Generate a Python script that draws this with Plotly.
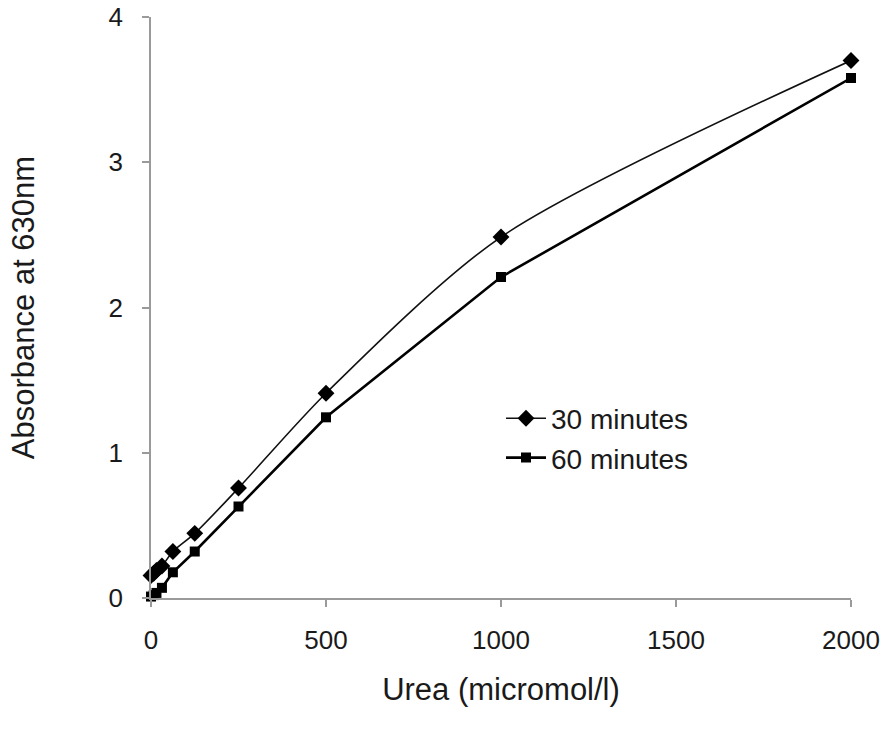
import plotly.graph_objects as go

urea = [0, 7.8, 15.6, 31.25, 62.5, 125, 250, 500, 1000, 2000]
abs_30 = [0.155, 0.17, 0.19, 0.22, 0.32, 0.445, 0.757, 1.41, 2.485, 3.70]
abs_60 = [0.01, 0.02, 0.035, 0.07, 0.177, 0.32, 0.63, 1.244, 2.21, 3.58]
x_ticks = [0, 500, 1000, 1500, 2000]
y_ticks = [0, 1, 2, 3, 4]

FONT = "Arial, Liberation Sans, Helvetica, sans-serif"

fig = go.Figure()
fig.add_trace(go.Scatter(
    x=urea, y=abs_30, name="30 minutes", mode="lines+markers",
    line=dict(color="#111111", width=1.6, shape="spline", smoothing=0.8),
    marker=dict(symbol="diamond", size=13, color="#000000"),
    cliponaxis=False,
))
fig.add_trace(go.Scatter(
    x=urea, y=abs_60, name="60 minutes", mode="lines+markers",
    line=dict(color="#000000", width=2.6),
    marker=dict(symbol="square", size=10, color="#000000"),
    cliponaxis=False,
))

fig.update_layout(
    width=888, height=744,
    margin=dict(l=151, r=37, t=17, b=146, autoexpand=False),
    paper_bgcolor="white", plot_bgcolor="white",
    font=dict(family=FONT, size=26, color="#1a1a1a"),
    showlegend=True,
    legend=dict(
        x=0.5, y=0.352, xanchor="left", yanchor="top",
        bgcolor="rgba(0,0,0,0)", font=dict(size=28),
        tracegroupgap=0, itemwidth=40,
    ),
    xaxis=dict(
        range=[0, 2000], tickvals=x_ticks, ticks="outside", ticklen=7,
        tickcolor="#9a9a9a", tickwidth=1.5,
        showline=True, linecolor="#9a9a9a", linewidth=1.5,
        showgrid=False, zeroline=False, ticklabelstandoff=11,
        title=dict(text="Urea (micromol/l)", standoff=24, font=dict(size=31)),
    ),
    yaxis=dict(
        range=[0, 4], tickvals=y_ticks, ticks="outside", ticklen=7,
        tickcolor="#9a9a9a", tickwidth=1.5,
        showline=True, linecolor="#9a9a9a", linewidth=1.5,
        showgrid=False, zeroline=False, ticklabelstandoff=14,
        title=dict(text="Absorbance at 630nm", standoff=65, font=dict(size=31)),
    ),
)

fig.write_html("out.html")
